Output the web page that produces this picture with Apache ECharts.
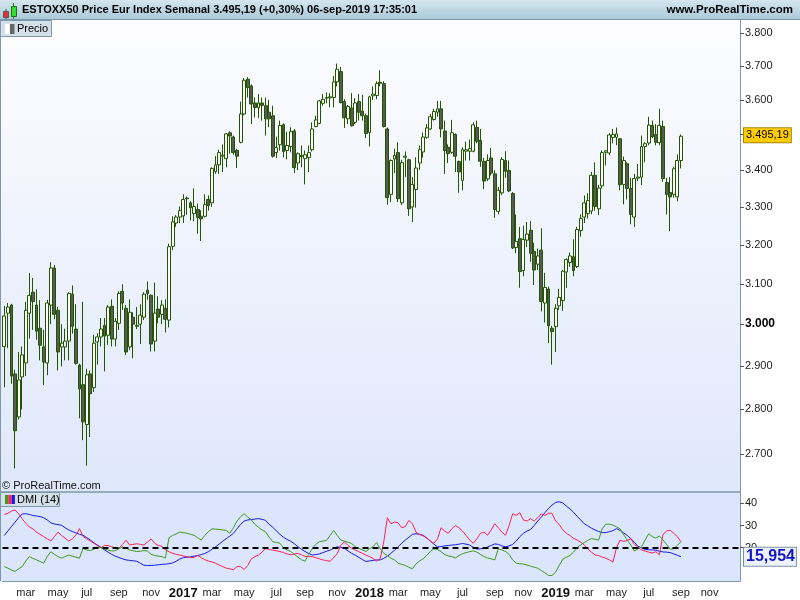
<!DOCTYPE html>
<html><head><meta charset="utf-8">
<script src="https://cdn.jsdelivr.net/npm/echarts@6/dist/echarts.min.js"></script>
<style>html,body{margin:0;padding:0;background:#fff;}#c{width:800px;height:600px;}</style>
</head><body><div id="c"></div>
<script>
// ---------- data (weekly candles, first = week ending 22-jan-2016) ----------
const startDate = '2016-01-22';
const nWeeks = 206;
const opens = [2946,3027,3047,2881,2782,2874,2907,3027,3079,3047,2990,2945,2907,3047,3140,3034,2945,2945,2959,3074,2988,2902,2856,2765,2881,2849,2957,2969,2997,2973,3044,2964,3002,3081,3039,2945,3017,2997,3000,3017,3084,3071,2959,3037,3024,3039,3010,3196,3257,3273,3276,3322,3311,3282,3293,3275,3275,3320,3311,3396,3415,3439,3432,3505,3493,3455,3478,3559,3661,3641,3591,3577,3591,3583,3564,3554,3449,3471,3528,3455,3466,3510,3420,3438,3432,3435,3457,3523,3532,3590,3605,3606,3607,3653,3684,3595,3545,3576,3535,3595,3567,3554,3506,3612,3613,3652,3648,3516,3334,3431,3449,3311,3436,3429,3300,3347,3420,3451,3492,3516,3543,3564,3574,3510,3464,3450,3500,3424,3372,3453,3453,3453,3520,3483,3424,3376,3434,3390,3288,3338,3427,3399,3336,3193,3216,3134,3212,3238,3183,3150,3186,3052,3087,2990,2994,3045,3058,3130,3154,3169,3144,3237,3273,3282,3289,3386,3295,3357,3450,3448,3492,3492,3488,3361,3418,3350,3273,3378,3381,3466,3476,3526,3500,3477,3523,3366,3339,3334,3327,3427];
const highs = [3045,3052,3050,2891,2933,2946,3055,3127,3115,3086,3059,2986,3060,3155,3148,3042,3000,2989,3079,3096,3049,2905,3055,2893,2889,2974,2978,3015,3015,3047,3061,3015,3081,3099,3047,3061,3029,3042,3049,3079,3106,3074,3103,3069,3059,3061,3203,3275,3278,3301,3334,3328,3315,3350,3309,3291,3334,3331,3408,3439,3457,3472,3503,3509,3497,3460,3595,3665,3667,3646,3607,3617,3607,3607,3600,3583,3494,3540,3532,3508,3521,3516,3450,3469,3455,3469,3535,3554,3600,3617,3622,3620,3671,3708,3698,3602,3585,3620,3605,3617,3615,3560,3612,3640,3655,3688,3655,3520,3430,3460,3478,3429,3452,3432,3381,3436,3469,3506,3530,3559,3574,3597,3597,3540,3472,3542,3503,3427,3464,3480,3486,3535,3540,3516,3434,3444,3462,3400,3354,3436,3453,3427,3340,3280,3247,3250,3260,3262,3205,3190,3243,3128,3093,2996,3049,3087,3135,3165,3180,3214,3247,3280,3331,3337,3395,3422,3360,3455,3455,3504,3516,3520,3490,3438,3422,3379,3390,3417,3497,3478,3551,3540,3530,3574,3540,3379,3381,3410,3444,3500];
const lows = [2850,2942,2858,2668,2776,2799,2876,2965,2986,2962,2913,2855,2878,3000,3012,2889,2899,2913,2913,2977,2903,2779,2730,2674,2737,2839,2903,2946,2887,2950,2946,2946,2986,3035,2926,2938,2918,2988,2952,3010,3060,2934,2934,3002,3000,2980,2992,3186,3247,3257,3257,3279,3264,3262,3229,3210,3272,3290,3300,3390,3390,3395,3408,3446,3443,3406,3475,3555,3607,3530,3549,3547,3540,3497,3521,3435,3434,3455,3436,3430,3450,3392,3400,3408,3361,3395,3452,3521,3530,3583,3590,3578,3578,3640,3590,3519,3530,3523,3530,3540,3540,3490,3466,3600,3602,3640,3520,3306,3313,3392,3313,3305,3381,3276,3260,3298,3401,3435,3488,3513,3540,3551,3492,3390,3420,3446,3395,3338,3345,3427,3427,3450,3475,3410,3348,3370,3385,3271,3280,3332,3379,3340,3189,3178,3090,3119,3194,3156,3097,3135,3031,3004,2954,2903,2933,3035,3033,3090,3143,3119,3140,3221,3257,3269,3280,3290,3278,3350,3413,3442,3475,3470,3345,3307,3320,3254,3247,3370,3359,3422,3470,3490,3469,3470,3368,3280,3236,3325,3315,3405];
const closes = [3020,3042,2876,2751,2867,2926,3034,3071,3056,2983,2949,2909,3052,3140,3024,2933,2954,2959,3076,2995,2906,2846,2771,2879,2835,2954,2969,2988,2971,3042,2964,3007,3076,3052,2933,3029,3000,2995,3022,3074,3076,2952,3027,3017,3047,3012,3195,3260,3273,3290,3320,3324,3298,3301,3272,3268,3306,3304,3405,3415,3449,3442,3502,3496,3449,3439,3559,3658,3636,3588,3578,3591,3584,3545,3545,3439,3463,3526,3452,3469,3508,3407,3446,3441,3443,3449,3516,3542,3597,3602,3607,3609,3653,3691,3592,3548,3581,3525,3591,3564,3554,3503,3609,3617,3648,3649,3523,3325,3427,3441,3322,3421,3439,3295,3361,3406,3457,3493,3519,3551,3566,3574,3516,3455,3446,3505,3439,3395,3457,3457,3460,3528,3481,3425,3370,3427,3392,3293,3345,3430,3397,3343,3192,3209,3131,3214,3228,3178,3135,3171,3056,3091,2996,2982,3039,3066,3132,3162,3171,3134,3240,3269,3311,3317,3386,3301,3351,3449,3454,3499,3500,3502,3360,3427,3350,3280,3377,3381,3466,3474,3527,3494,3478,3526,3377,3334,3327,3404,3427,3495.19];
// DMI (14): ADX (blue), DI+ (red), DI- (green)
const adx = [25.5,27.5,29.5,31.5,33.5,35.2,35.3,35,34.5,34.3,34,33.5,32.5,31.2,30.7,30.4,30.1,29,28,27.3,26.7,26,25.6,24.6,23.5,22.2,21.2,20.2,19,18,17,16.2,15.6,15,14.5,14.3,14.1,13.9,13,12.1,12,12,12.1,12.3,12.5,12.6,12.8,13.1,13.9,14.9,15.5,15.7,15.9,16.2,16.5,16.9,17.4,18.2,19.3,20.4,21.6,22.9,24.1,25.2,26.5,28.5,30.5,32,32.5,32.7,32.9,33.1,32.8,32.3,30.5,29.2,27.6,26,24.7,23.7,22.9,21.8,20.5,19.3,18.3,17.4,16.7,16.9,17.2,17.8,18.4,18.9,19.7,20.4,20.1,19.7,18.6,17.5,16.7,15.7,14.7,13.8,14,14.3,14.5,14.5,15.2,16.2,17.5,18.9,20.4,22,23.4,24.7,26,26.3,26,25.6,24.3,23,21.6,20.4,20.5,20.8,21,21.2,21.3,21.6,21.9,21.6,21.2,20.2,19.4,19.5,19.7,20.3,21,21.7,21.5,20.8,20.4,20.8,21.5,23,25,26.5,27.5,28.2,30,32,33.8,35.8,37.7,39.2,40.4,40.7,40.2,38.8,37.5,36,34.2,32.5,30.8,29.8,28.8,28,27.3,26.8,26.8,27.2,27.7,28.6,27.8,26.7,25.5,24.1,22.5,20.6,19.9,19.2,19.1,19,18.9,18.4,18.1,18,17.8,17.2,16.6,15.954];
const diPlus = [35,35.5,36.5,37,35.3,33,31,29.3,28.5,27,26,25,24,23,25,27,25.5,24.3,23,24,25.6,28.6,25,24,23,22,21,20,21,21,20.4,20,19.7,21.5,23.4,21.2,21.5,21.8,21.5,21.2,22.5,24,22,21,20.7,19,18.2,17.5,17,16.7,16.3,16,15.5,15.6,16.5,15.5,14.6,14,13.6,13,12.2,11.5,10.8,10.5,10.1,11.5,11.5,10.2,12,15,16,16.7,18,19.7,19.2,18.9,18.6,18.3,17.8,17.2,16.8,17.2,17.4,16.8,16.1,16,16,15.5,15,14.5,14.2,13.9,15.5,17.3,21,22.7,21,19.7,19,18.2,17.5,16.7,16,15.2,14,15,22.7,33.5,30.8,31.6,31.2,29,29.5,32.3,30.8,27,26,25.3,24.5,23,22,24,29,27.5,26.5,28.5,30,29,27.5,25.5,23.5,22,24,26.5,27,25.6,28,30.8,29,27,25.6,30,35.3,34.5,35.8,32.5,32,33.1,32,33.5,35.3,34.5,35.5,35.5,32,30.5,28,26.5,25.5,24.2,23.5,22.5,21.3,19.5,18,16.8,16.4,15.8,15.3,14.5,13.5,20,23.4,22.8,23.3,24,21.5,20.2,19,18.5,18,17.6,18.2,16.8,26,27.5,27.9,26.5,25,22.7];
const diMinus = [11.5,10.8,10,9.3,10.5,11.5,14,16,15.2,14.5,13.8,13,16,18.2,17,16,15.3,16,16.7,16.2,15.7,15.3,19.7,19,18.7,19.3,20.2,20,19.4,18.9,18.5,18.7,19.5,20.4,19.8,19,18.6,18.3,18.4,18.7,18.5,17,16.5,16.2,16,15.3,24.5,25.5,26.2,27,26.8,26.5,26,25.6,24.5,23.5,25.5,27.2,28.5,28.4,28.2,28,27.8,26.5,29,32,34,35.3,33.8,32.5,30.5,29.2,28,27.1,24.7,22.7,22.4,22,20,19,18.3,17,15.8,14.6,13.9,17,19.5,21.5,22.7,23,23.3,25.5,27.8,25.5,23.4,23,22.5,21.9,20.5,19.7,19,18.3,19.5,20.5,22.3,19.5,17.5,16.5,15.3,14.5,13,12.5,12,11.2,10.5,12.7,14,15,16.5,18.3,19.5,19.2,18.2,17,16.3,16,15.4,16.5,17.3,17.8,18.2,18.6,18,17,16,15.3,15,14.5,19.5,19,18.3,17,14.5,13,12.8,12.6,12.2,11.7,11.2,10.8,9.7,8.7,7.5,7.5,9,12,14.8,15.7,16.5,18,20,21.3,22.3,23.3,24.1,23.8,23.4,28.5,30.6,30.6,30.2,29.4,28.5,25.8,23.5,21.2,18.5,19.5,20.4,23.5,26.3,25,24.3,25.3,23.5,21.5,19.3,19.5,21,22.7];
const priceTicks = [2700,2800,2900,3000,3100,3200,3300,3400,3500,3600,3700,3800];
const dmiTicks = [20,30,40];
const dmiLevel = 20;
const monthNames = ['jan','feb','mar','apr','may','jun','jul','aug','sep','oct','nov','dec'];

// ---------- build ----------
const FONT = "'Liberation Sans', Arial, sans-serif";
const cats = [];
{
  const d0 = new Date(startDate + 'T00:00:00Z');
  for (let i = 0; i < nWeeks; i++) {
    const d = new Date(d0.getTime() + i * 7 * 86400000);
    cats.push(d.toISOString().slice(0, 10));
  }
}
const candle = opens.map((o, i) => [Math.log(o), Math.log(closes[i]), Math.log(lows[i]), Math.log(highs[i])]);
const last = closes.length - 1;
function fmtPrice(v) {
  const ip = Math.floor(v), dp = Math.round((v - ip) * 100);
  const s = String(ip);
  return s.slice(0, s.length - 3) + '.' + s.slice(-3) + ',' + String(dp).padStart(2, '0');
}
const lnRef = Math.log(3800);
const yMax = lnRef + 13.4 / 1230, yMin = lnRef - 458.6 / 1230;

const chart = echarts.init(document.getElementById('c'), null, {renderer: 'canvas'});
const gridL = 2.5, gridW = 737.5;

const showLabel = (idx, val) => {
  const d = new Date(val + 'T00:00:00Z');
  return d.getUTCDate() <= 7 && d.getUTCMonth() % 2 === 0;
};
const fmtLabel = (val) => {
  const d = new Date(val + 'T00:00:00Z');
  const m = d.getUTCMonth();
  return m === 0 ? '{y|' + d.getUTCFullYear() + '}' : monthNames[m];
};
const HIDDEN = 'rgba(0,0,0,0)';

const option = {
  animation: false,
  backgroundColor: '#ffffff',
  textStyle: {fontFamily: FONT},
  grid: [
    {left: gridL, top: 20, width: gridW, height: 472},
    {left: gridL, top: 492, width: gridW, height: 89}
  ],
  xAxis: [
    {type: 'category', gridIndex: 0, data: cats, boundaryGap: true, show: false},
    {type: 'category', gridIndex: 1, data: cats, boundaryGap: true,
      axisLine: {show: true, lineStyle: {color: '#7f98a8', width: 1}},
      axisTick: {show: false},
      axisLabel: {interval: showLabel, formatter: fmtLabel, margin: 6, fontSize: 11, color: '#222', fontFamily: FONT,
        rich: {y: {fontSize: 13, fontWeight: 'bold', color: '#111', fontFamily: FONT}}},
      splitLine: {show: false}}
  ],
  yAxis: [
    {type: 'value', gridIndex: 0, position: 'right', min: yMin, max: yMax, scale: true,
      axisLine: {show: true, lineStyle: {color: '#7f98a8', width: 1}},
      axisTick: {show: true, length: 4, lineStyle: {color: '#555'}, customValues: priceTicks.map(Math.log)},
      axisLabel: {customValues: priceTicks.map(Math.log), margin: 5, fontSize: 11, color: '#222', fontFamily: FONT,
        formatter: v => { const p = Math.round(Math.exp(v)); const s = (p / 1000).toFixed(3); return p === 3000 ? '{b|' + s + '}' : s; },
        rich: {b: {fontWeight: 'bold', fontSize: 12, color: '#000', fontFamily: FONT}}},
      splitLine: {show: false}},
    {type: 'value', gridIndex: 1, position: 'right', min: 5, max: 45.1,
      axisLine: {show: true, lineStyle: {color: '#7f98a8', width: 1}},
      axisTick: {show: true, length: 4, lineStyle: {color: '#555'}, customValues: dmiTicks},
      axisLabel: {customValues: dmiTicks, margin: 5, fontSize: 11, color: '#222', fontFamily: FONT},
      splitLine: {show: false}}
  ],
  series: [
    {type: 'candlestick', xAxisIndex: 0, yAxisIndex: 0, data: candle, barWidth: 3.4,
      itemStyle: {color: '#ffffff', color0: '#595959', borderColor: '#215500', borderColor0: '#215500', borderWidth: 1},
      markLine: {silent: true, symbol: 'none', animation: false,
        lineStyle: {color: HIDDEN, width: 1},
        label: {show: true, position: 'end', distance: 4, formatter: () => fmtPrice(closes[last]),
          backgroundColor: '#ffcc00', borderColor: '#a88400', borderWidth: 1, padding: [2, 2, 1, 2],
          color: '#000', fontSize: 11, fontFamily: FONT},
        data: [{yAxis: Math.log(closes[last])}]}},
    {type: 'line', name: 'ADX', xAxisIndex: 1, yAxisIndex: 1, data: adx, showSymbol: false, symbol: 'none',
      lineStyle: {color: '#1a1ae6', width: 1}, z: 3,
      markLine: {silent: true, symbol: 'none', animation: false,
        lineStyle: {color: HIDDEN, width: 1},
        label: {show: true, position: 'end', distance: 4,
          formatter: () => adx[last].toFixed(3).replace('.', ','),
          backgroundColor: '#eef2fb', borderColor: '#7890a8', borderWidth: 1, padding: [2, 1, 0, 2],
          color: '#1515c8', fontSize: 16, fontWeight: 'bold', fontFamily: FONT},
        data: [{yAxis: adx[last]}]}},
    {type: 'line', name: 'DI+', xAxisIndex: 1, yAxisIndex: 1, data: diPlus, showSymbol: false, symbol: 'none',
      lineStyle: {color: '#ff2255', width: 1}, z: 3},
    {type: 'line', name: 'DI-', xAxisIndex: 1, yAxisIndex: 1, data: diMinus, showSymbol: false, symbol: 'none',
      lineStyle: {color: '#3f9a1c', width: 1}, z: 3,
      markLine: {silent: true, symbol: 'none', animation: false,
        lineStyle: {color: '#000', width: 2, type: [6, 4]},
        label: {show: false},
        data: [{yAxis: dmiLevel}]}}
  ],
  graphic: [
    // backgrounds
    {type: 'rect', z: -10, shape: {x: 0, y: 20, width: 740, height: 472},
      style: {fill: new echarts.graphic.LinearGradient(0, 0, 0, 1, [{offset: 0, color: '#fdfdff'}, {offset: 1, color: '#dfe7fb'}])}},
    {type: 'rect', z: -10, shape: {x: 0, y: 492, width: 740, height: 89}, style: {fill: '#dbe5fb'}},
    // title bar
    {type: 'rect', z: 1, shape: {x: 0, y: 0, width: 800, height: 20},
      style: {fill: new echarts.graphic.LinearGradient(0, 0, 0, 1, [{offset: 0, color: '#d4e6ef'}, {offset: 1, color: '#a9c7d7'}])}},
    {type: 'line', z: 2, shape: {x1: 0, y1: 19.5, x2: 800, y2: 19.5}, style: {stroke: '#7a95a6', lineWidth: 1}},
    {type: 'text', z: 3, left: 22, top: 4, style: {text: 'ESTOXX50 Price Eur Index Semanal 3.495,19 (+0,30%) 06-sep-2019 17:35:01',
      font: 'bold 11px ' + FONT, fill: '#000'}},
    {type: 'text', z: 3, right: 7, top: 4, style: {text: 'www.ProRealTime.com', font: 'bold 11.5px ' + FONT, fill: '#000'}},
    // title icon
    {type: 'line', z: 3, shape: {x1: 6, y1: 9, x2: 6, y2: 19}, style: {stroke: '#444', lineWidth: 1}},
    {type: 'rect', z: 4, shape: {x: 3.5, y: 11.5, width: 5, height: 6}, style: {fill: '#e8303a', stroke: '#555', lineWidth: 1}},
    {type: 'line', z: 3, shape: {x1: 13.5, y1: 3, x2: 13.5, y2: 19}, style: {stroke: '#2a7a10', lineWidth: 1}},
    {type: 'rect', z: 4, shape: {x: 11.5, y: 6.5, width: 5, height: 10}, style: {fill: '#33dd33', stroke: '#2a6a10', lineWidth: 1}},
    // borders
    {type: 'line', z: 5, shape: {x1: 0.5, y1: 20, x2: 0.5, y2: 581}, style: {stroke: '#7f98a8', lineWidth: 1}},
    {type: 'line', z: 5, shape: {x1: 0, y1: 492, x2: 740, y2: 492}, style: {stroke: '#7f98a8', lineWidth: 1.5}},
    // Precio box
    {type: 'rect', z: 20, shape: {x: 0.5, y: 20.5, width: 51, height: 16}, style: {fill: '#d3e0e9', stroke: '#7f98a8', lineWidth: 1}},
    {type: 'rect', z: 21, shape: {x: 5, y: 24, width: 4.5, height: 10}, style: {fill: '#ffffff'}},
    {type: 'rect', z: 21, shape: {x: 10, y: 24, width: 4.5, height: 10}, style: {fill: '#666666'}},
    {type: 'text', z: 21, left: 17, top: 23, style: {text: 'Precio', font: '11px ' + FONT, fill: '#000'}},
    // copyright
    {type: 'text', z: 21, left: 2, top: 480, style: {text: '\u00a9 ProRealTime.com', font: '11px ' + FONT, fill: '#111'}},
    // DMI box
    {type: 'rect', z: 20, shape: {x: 0.5, y: 492.5, width: 59, height: 14}, style: {fill: '#d3e0e9', stroke: '#7f98a8', lineWidth: 1}},
    {type: 'rect', z: 21, shape: {x: 5, y: 495, width: 3.3, height: 9}, style: {fill: '#3f9a1c'}},
    {type: 'rect', z: 21, shape: {x: 8.3, y: 495, width: 3.3, height: 9}, style: {fill: '#ff2255'}},
    {type: 'rect', z: 21, shape: {x: 11.6, y: 495, width: 3.3, height: 9}, style: {fill: '#1a1ae6'}},
    {type: 'text', z: 21, left: 17, top: 494, style: {text: 'DMI (14)', font: '11px ' + FONT, fill: '#000'}}
  ]
};
chart.setOption(option);
</script>
</body></html>
